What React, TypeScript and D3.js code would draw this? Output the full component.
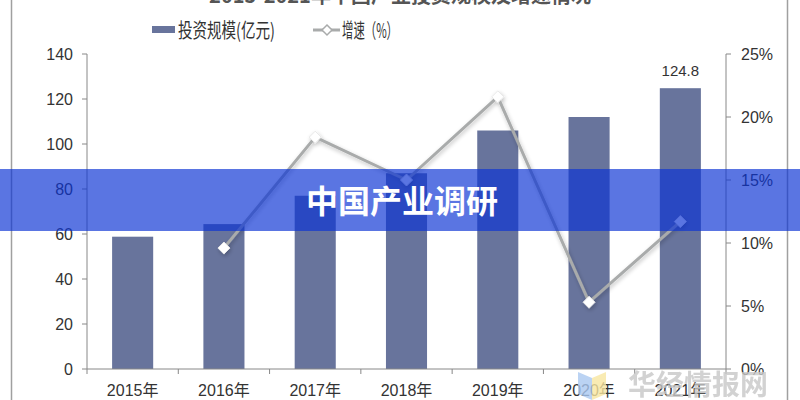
import React from "react";
import * as d3 from "d3";

const categories = ["2015年", "2016年", "2017年", "2018年", "2019年", "2020年", "2021年"];
const investment = [58.8, 64.4, 77, 87, 106, 112, 124.8];
const growth: (number | null)[] = [null, 9.6, 18.4, 15.0, 21.6, 5.3, 11.7];
const leftTicks = [0, 20, 40, 60, 80, 100, 120, 140];
const rightTicks = [0, 5, 10, 15, 20, 25];
const barLegend = "投资规模(亿元)";
const lineLegend = "增速（%）";
const title = "2015-2021年中国产业投资规模及增速情况";
const bannerText = "中国产业调研";
const watermark = "华经情报网";

const W = 800;
const H = 400;
const left = 87;
const right = 726;
const top = 54;
const bottom = 369;

export default function App() {
  const x = d3.scaleBand<string>().domain(categories).range([left, right]).paddingInner(0.55).paddingOuter(0.275);
  const xb = d3.scaleBand<string>().domain(categories).range([left, right]);
  const yL = d3.scaleLinear().domain([0, 140]).range([bottom, top]);
  const yR = d3.scaleLinear().domain([0, 25]).range([bottom, top]);

  const pts = categories
    .map((c, i) => ({ c, v: growth[i] }))
    .filter((d) => d.v !== null) as { c: string; v: number }[];
  const line = d3
    .line<{ c: string; v: number }>()
    .x((d) => (xb(d.c) as number) + xb.bandwidth() / 2)
    .y((d) => yR(d.v));

  const font = "'Liberation Sans', Arial, 'Noto Sans CJK SC', sans-serif";
  const cjk = "'Noto Sans CJK SC', sans-serif";
  const barColor = "#68749c";
  const lineColor = "#a9abab";

  const diamond = (cx: number, cy: number, r: number) =>
    `M${cx},${cy - r}L${cx + r},${cy}L${cx},${cy + r}L${cx - r},${cy}Z`;

  return (
    <svg
      width={W}
      height={H}
      style={{ position: "absolute", left: 0, top: 0, background: "#fff" }}
      fontFamily={font}
    >
      <defs>
        <filter id="glow" x="-10%" y="-10%" width="120%" height="120%">
          <feGaussianBlur in="SourceAlpha" stdDeviation="2" result="b" />
          <feOffset dx="1" dy="2" result="o" />
          <feComponentTransfer in="o" result="s">
            <feFuncA type="linear" slope="0.25" />
          </feComponentTransfer>
          <feMerge>
            <feMergeNode in="s" />
            <feMergeNode in="SourceGraphic" />
          </feMerge>
        </filter>
      </defs>
      <rect x={0} y={0} width={W} height={H} fill="#fff" />
      {/* frame lines */}
      <line x1={11.5} x2={11.5} y1={0} y2={H} stroke="#a0a0a0" strokeWidth={1.5} />
      <line x1={787.5} x2={787.5} y1={0} y2={H} stroke="#a0a0a0" strokeWidth={1.5} />

      {/* title (cut) */}
      <text x={400} y={3} textAnchor="middle" fontFamily={cjk} fontWeight="bold" fontSize={20} fill="#555">
        {title}
      </text>

      {/* legend */}
      <rect x={152} y={26} width={23} height={7} fill={barColor} />
      <text x={178} y={38} fontFamily={cjk} fontSize={20} fill="#333" textLength={97} lengthAdjust="spacingAndGlyphs">
        {barLegend}
      </text>
      <line x1={313} x2={340} y1={30} y2={30} stroke={lineColor} strokeWidth={3} />
      <path d={diamond(327, 30, 5)} fill="#fff" stroke={lineColor} strokeWidth={1.5} />
      <text x={342} y={38} fontFamily={cjk} fontSize={20} fill="#333" textLength={56} lengthAdjust="spacingAndGlyphs">
        {lineLegend}
      </text>

      {/* left axis */}
      <line x1={left} x2={left} y1={top} y2={bottom} stroke="#888" />
      {leftTicks.map((t) => (
        <g key={t}>
          <line x1={left - 5} x2={left} y1={yL(t)} y2={yL(t)} stroke="#888" />
          <text x={73} y={yL(t) + 6} textAnchor="end" fontSize={16} fill="#333">
            {t}
          </text>
        </g>
      ))}
      {/* right axis */}
      <line x1={right} x2={right} y1={top} y2={bottom} stroke="#888" />
      {rightTicks.map((t) => (
        <g key={t}>
          <line x1={right} x2={right + 5} y1={yR(t)} y2={yR(t)} stroke="#888" />
          <text x={741} y={yR(t) + 6} textAnchor="start" fontSize={16} fill="#333">
            {t}%
          </text>
        </g>
      ))}

      {/* bars */}
      {categories.map((c, i) => (
        <rect
          key={c}
          x={x(c)}
          y={yL(investment[i])}
          width={x.bandwidth()}
          height={bottom - yL(investment[i])}
          fill={barColor}
        />
      ))}
      <text
        x={(x(categories[6]) as number) + x.bandwidth() / 2}
        y={yL(investment[6]) - 12}
        textAnchor="middle"
        fontSize={15}
        fill="#333"
      >
        {investment[6]}
      </text>

      {/* x axis */}
      <line x1={left} x2={right} y1={bottom} y2={bottom} stroke="#888" />
      {categories.map((c) => (
        <line key={c} x1={xb(c)} x2={xb(c)} y1={bottom} y2={bottom + 5} stroke="#888" />
      ))}
      <line x1={right} x2={right} y1={bottom} y2={bottom + 5} stroke="#888" />
      {categories.map((c) => (
        <text
          key={c}
          x={(xb(c) as number) + xb.bandwidth() / 2}
          y={396}
          textAnchor="middle"
          fontSize={16}
          fill="#333"
        >
          {c}
        </text>
      ))}

      {/* line */}
      <g filter="url(#glow)">
        <path d={line(pts) || ""} fill="none" stroke={lineColor} strokeWidth={3} strokeLinejoin="round" />
        {pts.map((d) => (
          <path
            key={d.c}
            d={diamond((xb(d.c) as number) + xb.bandwidth() / 2, yR(d.v), 6)}
            fill="#fff"
            stroke="#e8e8e8"
            strokeWidth={1}
          />
        ))}
      </g>

      {/* logo and watermark */}
      <path d="M578,372 L592,378 L592,400 L578,394 Z" fill="#aac8f0" opacity={0.8} />
      <path d="M592,378 L606,372 L606,394 L592,400 Z" fill="#f8e6a0" opacity={0.8} />
      <text x={628} y={395} fontFamily={cjk} fontWeight="bold" fontSize={28} fill="#c8c8c8" opacity={0.8}>
        {watermark}
      </text>

      {/* banner */}
      <rect x={0} y={169} width={W} height={62} fill="rgb(12,52,212)" opacity={0.68} />
      <text x={402} y={213} textAnchor="middle" fontFamily={cjk} fontWeight="bold" fontSize={32} fill="#fff">
        {bannerText}
      </text>
    </svg>
  );
}
